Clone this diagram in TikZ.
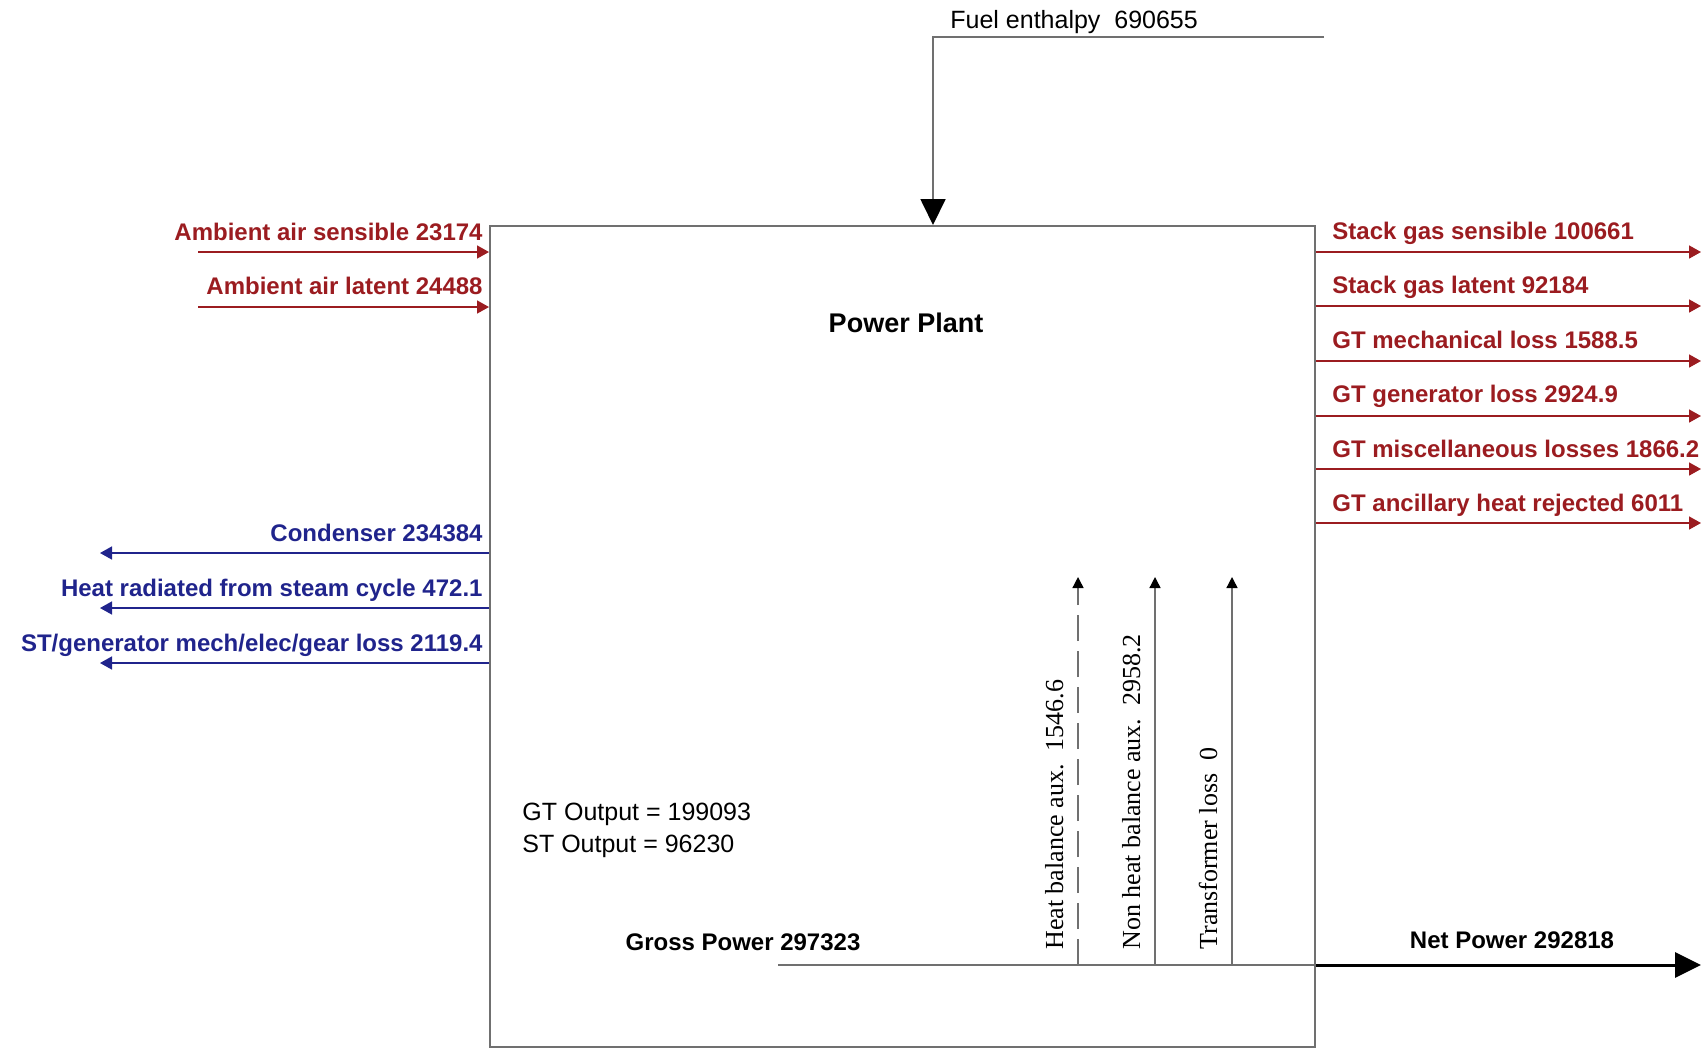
\documentclass[tikz,border=0pt]{standalone}
\usepackage{fontspec}
\setmainfont{Liberation Sans}
\newfontfamily\auxfont{Liberation Serif}
\usetikzlibrary{arrows.meta,positioning,calc}
\definecolor{lossred}{RGB}{155,28,32}
\definecolor{lossblue}{RGB}{32,36,140}
\definecolor{frame}{RGB}{112,112,112}
\tikzset{
  plantbox/.style={draw=frame,line width=1pt,minimum width=412.5pt,minimum height=410.5pt,inner sep=0pt},
  redar/.style={draw=lossred,line width=0.8pt,-{Triangle[length=6pt,width=6.5pt]}},
  bluear/.style={draw=lossblue,line width=0.8pt,-{Triangle[length=6pt,width=6.5pt]}},
  auxar/.style={draw=frame,line width=0.7pt,-{Triangle[length=5.5pt,width=5.5pt,color=black]}},
  bigar/.style={-{Triangle[length=13pt,width=12.5pt,color=black]}},
  redlbl/.style={text=lossred,font=\fontsize{12}{14}\selectfont\bfseries,inner sep=0pt},
  bluelbl/.style={text=lossblue,font=\fontsize{12}{14}\selectfont\bfseries,inner sep=0pt},
  txt/.style={font=\fontsize{12.5}{16}\selectfont,inner sep=0pt},
  boldtxt/.style={font=\fontsize{12}{14}\selectfont\bfseries,inner sep=0pt},
  auxlbl/.style={font=\auxfont\fontsize{13}{15}\selectfont,inner sep=0pt,rotate=90,anchor=base west}
}
\begin{document}
\begin{tikzpicture}[x=0.5pt,y=-0.5pt]
  \useasboundingbox (0,0) rectangle (1701,1051);
  % main box
  \node[plantbox] (plant) at (902.5,636.5) {};
  \node[font=\fontsize{13.5}{16}\selectfont\bfseries,inner sep=0pt] (title) at (906,323) {Power Plant};

  % fuel in
  \coordinate (fuelend) at (1324,37);
  \coordinate (fuelbend) at (933,37);
  \node[txt,anchor=base west] (fuel) at (950,28) {Fuel enthalpy\ \ 690655};
  \draw[draw=frame,line width=0.9pt,bigar] (fuelend) -- (fuelbend) -- (fuelbend |- plant.north);

  % ambient air in
  \coordinate (asens) at (198,252);
  \coordinate (alat) at (198,307);
  \node[redlbl,anchor=base east] (asenslbl) at (483,240) {Ambient air sensible 23174};
  \node[redlbl,anchor=base east] (alatlbl) at (483,294) {Ambient air latent 24488};
  \draw[redar] (asens) -- (asens -| plant.west);
  \draw[redar] (alat) -- (alat -| plant.west);

  % gas turbine side losses
  \coordinate (sgs) at (1701,252);
  \coordinate (sgl) at (1701,306);
  \coordinate (gtm) at (1701,361);
  \coordinate (gtg) at (1701,416);
  \coordinate (gtmisc) at (1701,469);
  \coordinate (gtanc) at (1701,523);
  \node[redlbl,anchor=base west] (sgslbl) at (1332,239.5) {Stack gas sensible 100661};
  \node[redlbl,anchor=base west] (sgllbl) at (1332,293) {Stack gas latent 92184};
  \node[redlbl,anchor=base west] (gtmlbl) at (1332,348) {GT mechanical loss 1588.5};
  \node[redlbl,anchor=base west] (gtglbl) at (1332,402) {GT generator loss 2924.9};
  \node[redlbl,anchor=base west] (gtmisclbl) at (1332,457) {GT miscellaneous losses 1866.2};
  \node[redlbl,anchor=base west] (gtanclbl) at (1332,511) {GT ancillary heat rejected 6011};
  \draw[redar] (sgs -| plant.east) -- (sgs);
  \draw[redar] (sgl -| plant.east) -- (sgl);
  \draw[redar] (gtm -| plant.east) -- (gtm);
  \draw[redar] (gtg -| plant.east) -- (gtg);
  \draw[redar] (gtmisc -| plant.east) -- (gtmisc);
  \draw[redar] (gtanc -| plant.east) -- (gtanc);

  % steam cycle losses
  \coordinate (cond) at (100,553);
  \coordinate (rad) at (100,608);
  \coordinate (stgen) at (100,663);
  \node[bluelbl,anchor=base east] (condlbl) at (483,541) {Condenser 234384};
  \node[bluelbl,anchor=base east] (radlbl) at (483,596) {Heat radiated from steam cycle 472.1};
  \node[bluelbl,anchor=base east] (stgenlbl) at (483,651) {ST/generator mech/elec/gear loss 2119.4};
  \draw[bluear] (cond -| plant.west) -- (cond);
  \draw[bluear] (rad -| plant.west) -- (rad);
  \draw[bluear] (stgen -| plant.west) -- (stgen);

  % outputs
  \node[txt,anchor=north west,align=left] (outputs) at (522,803) {GT Output = 199093\\ST Output = 96230};
  \node[boldtxt] (gross) at (743,942) {Gross Power 297323};
  \node[boldtxt] (net) at (1512,940) {Net Power 292818};
  \coordinate (gp) at (778,965);
  \coordinate (np) at (1701,965);
  \draw[draw=frame,line width=0.8pt] (gp) -- (gp -| plant.east);
  \draw[line width=1.5pt,bigar] (np -| plant.east) -- (np);

  % auxiliaries
  \coordinate (hb) at (1078,965);
  \coordinate (nhb) at (1155,965);
  \coordinate (tl) at (1232,965);
  \coordinate (hbtop) at (1078,577);
  \coordinate (nhbtop) at (1155,577);
  \coordinate (tltop) at (1232,577);
  \draw[auxar,dash pattern=on 13pt off 5pt] (hb) -- (hbtop);
  \draw[auxar] (nhb) -- (nhbtop);
  \draw[auxar] (tl) -- (tltop);
  \node[auxlbl] (hblbl) at (1063,950) {Heat balance aux.\ \ 1546.6};
  \node[auxlbl] (nhblbl) at (1140,950) {Non heat balance aux.\ \ 2958.2};
  \node[auxlbl] (tllbl) at (1217,950) {Transformer loss\ \ 0};
\end{tikzpicture}
\end{document}
